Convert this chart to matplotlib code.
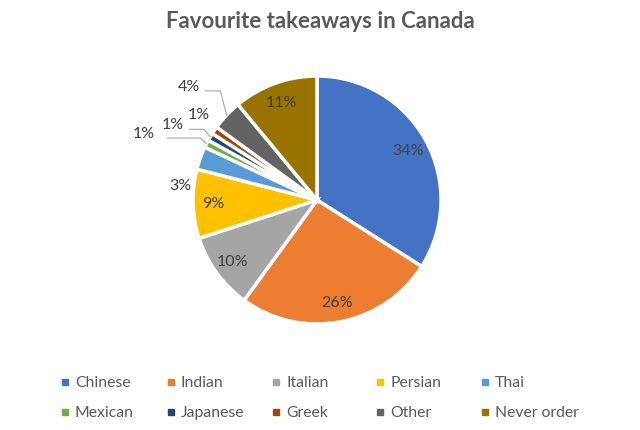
import numpy as np
import matplotlib.pyplot as plt

categories = ["Chinese", "Indian", "Italian", "Persian", "Thai",
              "Mexican", "Japanese", "Greek", "Other", "Never order"]
shares = [34, 26, 10, 9, 3, 1, 1, 1, 4, 11]
colors = ["#4472C4", "#ED7D31", "#A5A5A5", "#FFC000", "#5B9BD5",
          "#70AD47", "#264478", "#9E480E", "#636363", "#997300"]

# outside labels for the thin slices: (text x, text y, leader line?)
outside = {
    "Thai": (-1.10, 0.12, False),
    "Mexican": (-1.40, 0.54, True),
    "Japanese": (-1.16, 0.61, True),
    "Greek": (-0.95, 0.69, False),
    "Other": (-1.03, 0.92, True),
}

plt.rcParams['font.family'] = ['Lato', 'DejaVu Sans']
text_col = "#404040"

fig = plt.figure(figsize=(6.4, 4.31), dpi=100)
R = 124.0
cx, cy = 317, 201
half = 150
ax = fig.add_axes([(cx - half) / 640, (431 - cy - half) / 431, 2 * half / 640, 2 * half / 431])
lim = half / R

wedges, _ = ax.pie(shares, colors=colors, startangle=90, counterclock=False,
                   wedgeprops=dict(edgecolor="white", linewidth=2.5))
ax.set_xlim(-lim, lim)
ax.set_ylim(-lim, lim)
ax.axis("off")

for w, name, v in zip(wedges, categories, shares):
    mid = np.deg2rad((w.theta1 + w.theta2) / 2)
    label = f"{v}%"
    if name in outside:
        tx, ty, line = outside[name]
        ax.text(tx, ty, label, ha="center", va="center", fontsize=11.5, color=text_col)
        if line:
            ex, ey = np.cos(mid), np.sin(mid)
            x0 = tx + 0.13
            y0 = ty - 0.04
            elbow_x = ex - 0.05
            ax.plot([x0, elbow_x, ex], [y0, y0, ey], color="#A6A6A6", lw=0.8)
    else:
        ax.text(0.84 * np.cos(mid), 0.84 * np.sin(mid), label, ha="center", va="center",
                fontsize=11.5, color=text_col)

fig.text(0.5 + 0.5 / 640, 1 - 22 / 431, "Favourite takeaways in Canada", ha="center", va="center",
         fontsize=16, fontweight="bold", color="#595959")

# legend, two rows of five
lax = fig.add_axes([0, 0, 1, 1])
lax.set_xlim(0, 640)
lax.set_ylim(431, 0)
lax.axis("off")
col_x = [65, 171, 276, 380, 485]
row_y = [383, 413]
for i, (name, c) in enumerate(zip(categories, colors)):
    x = col_x[i % 5]
    y = row_y[i // 5]
    lax.plot([x], [y], marker="s", ms=5, color=c, ls="none")
    lax.text(x + 10, y, name, ha="left", va="center", fontsize=11.3, color="#595959")

fig.savefig("out.png", dpi=100)
